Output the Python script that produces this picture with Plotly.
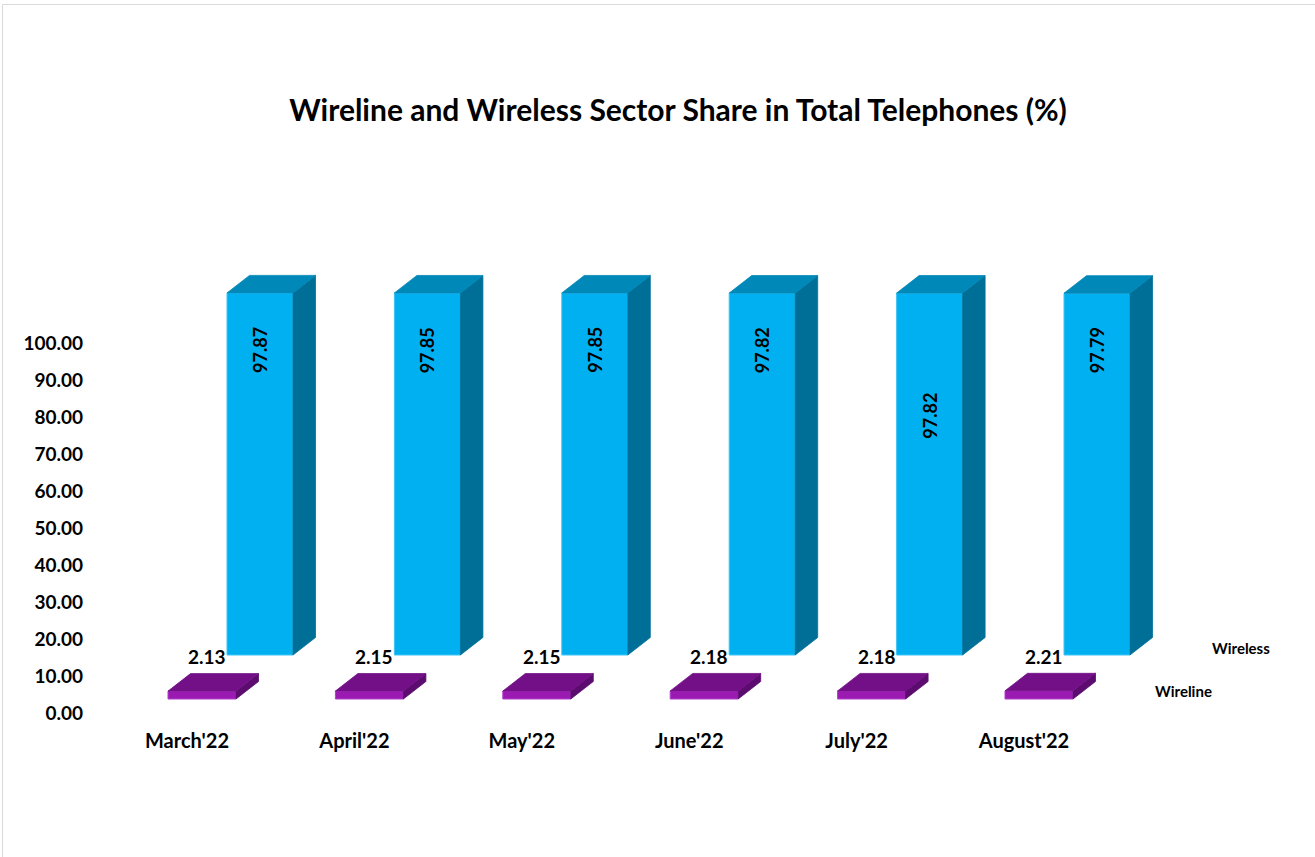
import plotly.graph_objects as go

# ---------------- data ----------------
months = ["March'22", "April'22", "May'22", "June'22", "July'22", "August'22"]
wireline = [2.13, 2.15, 2.15, 2.18, 2.18, 2.21]
wireless = [97.87, 97.85, 97.85, 97.82, 97.82, 97.79]
y_ticks = [0, 10, 20, 30, 40, 50, 60, 70, 80, 90, 100]

# ---------------- layout geometry ----------------
W, H = 1315, 857
L, R, T, B = 120, 15, 140, 130
PW, PH = W - L - R, H - T - B
X0_PX, STEP_PX = 187.0, 167.4          # category centre pixel and spacing
PX_PER_UNIT = 3.7                        # y-axis pixels per percent
ZERO_PX = 713.0                          # pixel of y = 0

x_range = [(L - X0_PX) / STEP_PX, (W - R - X0_PX) / STEP_PX]
y_range = [(ZERO_PX - (H - B)) / PX_PER_UNIT, (ZERO_PX - T) / PX_PER_UNIT]

DX = 22.5 / STEP_PX        # 3-D depth offset (x units)
DY = 17.5 / PX_PER_UNIT    # 3-D depth offset (y units)

series = [
    dict(name="Wireless", vals=wireless, off=40 / STEP_PX, w=66 / STEP_PX,
         base=(ZERO_PX - 655) / PX_PER_UNIT,
         front="#00B0F0", top="#0088B8", side="#006F98", edge="#3FC4F5"),
    dict(name="Wireline", vals=wireline, off=-19 / STEP_PX, w=68 / STEP_PX,
         base=(ZERO_PX - 699) / PX_PER_UNIT,
         front="#9A1AB2", top="#731088", side="#5C0C6E", edge="#B040C8"),
]

fig = go.Figure()
xi = list(range(len(months)))

for s in series:
    tx, ty, sx, sy = [], [], [], []
    for i, v in zip(xi, s["vals"]):
        x0 = i + s["off"]
        x1 = x0 + s["w"]
        y0 = s["base"]
        y1 = y0 + v
        tx += [x0, x1, x1 + DX, x0 + DX, x0, None]
        ty += [y1, y1, y1 + DY, y1 + DY, y1, None]
        sx += [x1, x1 + DX, x1 + DX, x1, x1, None]
        sy += [y0, y0 + DY, y1 + DY, y1, y0, None]
    fig.add_trace(go.Scatter(x=sx, y=sy, fill="toself", mode="lines",
                             fillcolor=s["side"], line=dict(width=0.8, color=s["side"]),
                             hoverinfo="skip", showlegend=False))
    fig.add_trace(go.Scatter(x=tx, y=ty, fill="toself", mode="lines",
                             fillcolor=s["top"], line=dict(width=0.8, color=s["top"]),
                             hoverinfo="skip", showlegend=False))
    fig.add_trace(go.Bar(x=xi, y=s["vals"], base=[s["base"]] * len(xi),
                         width=s["w"], offset=s["off"],
                         marker=dict(color=s["front"], line=dict(color=s["edge"], width=1)),
                         name=s["name"], showlegend=False, hoverinfo="skip"))

FONT = "Lato"

label_drop_px = [57, 57, 57, 57, 123, 57]
ws = series[0]
for i, v, d in zip(xi, wireless, label_drop_px):
    fig.add_annotation(x=i + ws["off"] + ws["w"] / 2, y=ws["base"] + v,
                       yshift=-d, text=f"{v:.2f}", textangle=-90, showarrow=False,
                       font=dict(family=FONT, size=18, color="black", weight="bold"))

wl = series[1]
for i, v in zip(xi, wireline):
    fig.add_annotation(x=i + wl["off"] + wl["w"] / 2 + 0.03, y=wl["base"] + v + DY,
                       yshift=17, text=f"{v:.2f}", showarrow=False,
                       font=dict(family=FONT, size=19, color="black", weight="bold"))

fig.add_annotation(xref="paper", yref="paper", x=(1241 - L) / PW, y=(H - B - 648) / PH,
                   xanchor="center", yanchor="middle",
                   text="Wireless", showarrow=False,
                   font=dict(family=FONT, size=15, color="black", weight="bold"))
fig.add_annotation(xref="paper", yref="paper", x=(1183 - L) / PW, y=(H - B - 691) / PH,
                   xanchor="center", yanchor="middle",
                   text="Wireline", showarrow=False,
                   font=dict(family=FONT, size=15, color="black", weight="bold"))

fig.add_shape(type="rect", xref="paper", yref="paper",
              x0=(2.5 - L) / PW, x1=(W + 20 - L) / PW,
              y0=(H - B - (H + 20)) / PH, y1=(H - B - 4.5) / PH,
              line=dict(color="#D9D9D9", width=1), layer="below")

fig.update_layout(
    width=W, height=H,
    margin=dict(l=L, r=R, t=T, b=B),
    paper_bgcolor="white", plot_bgcolor="white",
    barmode="overlay",
    title=dict(text="Wireline and Wireless Sector Share in Total Telephones (%)",
               x=678 / W, xanchor="center", y=1 - 110 / H, yanchor="middle",
               font=dict(family=FONT, size=30, color="black", weight="bold")),
    xaxis=dict(range=x_range, tickmode="array", tickvals=xi, ticktext=months,
               showgrid=False, zeroline=False, showline=False, ticks="",
               tickfont=dict(family=FONT, size=20, color="black", weight="bold")),
    yaxis=dict(range=y_range, tickmode="array", tickvals=y_ticks,
               ticktext=[f"{t:.2f}" for t in y_ticks],
               showgrid=False, zeroline=False, showline=False, ticks="",
               ticklabelstandoff=36,
               tickfont=dict(family=FONT, size=19, color="black", weight="bold")),
)

fig.write_html("out.html", config={"displayModeBar": False},
               post_script="document.body.style.margin='0';document.body.style.overflow='hidden';")
